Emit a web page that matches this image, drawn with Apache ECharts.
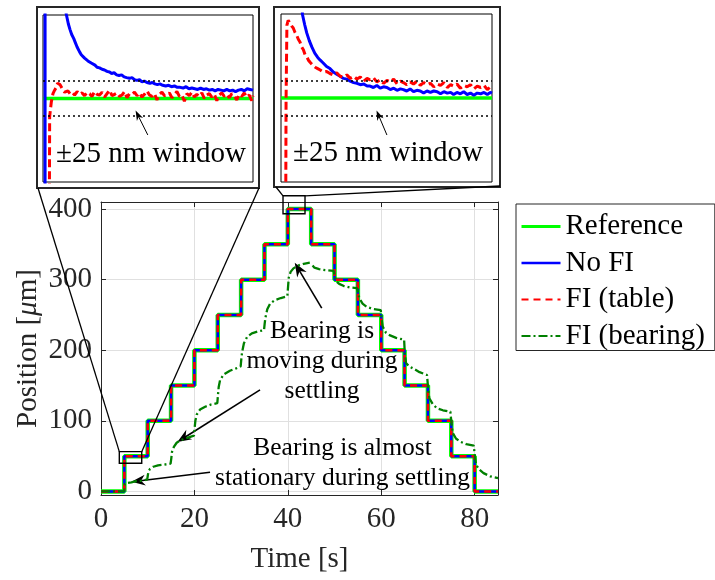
<!DOCTYPE html>
<html>
<head>
<meta charset="utf-8">
<script src="https://cdn.jsdelivr.net/npm/echarts@6/dist/echarts.min.js"></script>
<style>
  html, body { margin: 0; padding: 0; background: #fff; }
  #chart { width: 715px; height: 580px; }
</style>
</head>
<body>
<div id="chart"></div>
<script>
const FONT = '"Liberation Serif", "Times New Roman", serif';

// ---- Stair-step position command (held from each time to the next) ----
const stepTimesS = [0, 5, 10, 15, 20, 25, 30, 35, 40, 45, 50, 55, 60, 65, 70, 75, 80, 85];
const referenceUm = [0, 50, 100, 150, 200, 250, 300, 350, 400, 350, 300, 250, 200, 150, 100, 50, 0, 0];
const noFiUm      = [0, 50, 100, 150, 200, 250, 300, 350, 400, 350, 300, 250, 200, 150, 100, 50, 0, 0];
const fiTableUm   = [0, 50, 100, 150, 200, 250, 300, 350, 400, 350, 300, 250, 200, 150, 100, 50, 0, 0];

// ---- Bearing-based FI response [time s, position um] ----
const fiBearingUm = [
  [0, 0], [4.9, 0], [5.0, 4], [5.1, 11], [5.6, 12], [6.5, 13], [7.5, 14.5], [8.5, 15], [9.9, 17],
  [10.05, 24], [10.2, 29], [10.5, 32], [11.2, 35], [12.2, 37], [13.5, 38], [14.9, 39.5],
  [15.05, 47], [15.2, 56], [15.6, 63], [16.2, 69], [17.0, 72.5], [18.3, 75.5], [19.9, 79],
  [20.05, 90], [20.2, 100], [20.5, 109], [21.2, 116], [22.3, 120], [23.5, 123], [24.9, 125],
  [25.05, 137], [25.2, 148], [25.5, 158], [26.3, 166], [27.6, 171], [28.8, 174], [29.9, 177],
  [30.05, 188], [30.2, 197], [30.6, 210], [31.3, 219], [32.3, 224], [33.5, 226.5], [34.9, 228.5],
  [35.05, 238], [35.2, 246], [35.6, 258], [36.2, 266], [37.2, 271], [38.5, 274], [39.9, 276.5],
  [40.05, 290], [40.2, 303], [40.6, 311], [41.2, 316], [42.2, 320], [43.4, 322.5], [44.7, 324],
  [45.0, null],
  [45.3, 320], [45.7, 317], [46.7, 315], [48.0, 313.5], [49.8, 312.5],
  [50.05, 305], [50.3, 298], [51.0, 294], [52.0, 291], [53.3, 289], [54.8, 288],
  [55.05, 281], [55.3, 274], [56.0, 266], [56.9, 261.5], [58.2, 258.5], [59.9, 257],
  [60.05, 246], [60.3, 234], [61.0, 225], [61.9, 221], [63.2, 217.5], [64.9, 215],
  [65.05, 195], [65.3, 182], [66.0, 177], [66.9, 174], [68.2, 169], [69.8, 165],
  [70.05, 145], [70.3, 132], [71.0, 124], [71.9, 118], [73.2, 115], [74.8, 113],
  [75.05, 96], [75.3, 83], [76.0, 75], [76.9, 70.5], [78.2, 67], [79.8, 65],
  [80.05, 50], [80.3, 38], [81.0, 31], [81.9, 26], [83.3, 21.5], [85, 19]
];

// ---- Close-up 1: settling after the 0 -> 50 um step (error in nm) ----
const zoom1ReferenceNm = [[4.95, 0], [10.0, 0]];
const zoom1NoFiNm = [
  [4.95, -50000], [5.0, -50000], [5.0, 500], [5.4, 170], [5.51, 121], [5.56, 107], [5.6, 99], [5.64, 92],
  [5.69, 86], [5.73, 80], [5.77, 74], [5.83, 67], [5.87, 63], [5.91, 61], [5.95, 58], [5.99, 58],
  [6.03, 54], [6.07, 53], [6.11, 51], [6.15, 49], [6.2, 48], [6.25, 45], [6.31, 44], [6.37, 42],
  [6.43, 41], [6.49, 39], [6.55, 38], [6.6, 36], [6.66, 37], [6.72, 34], [6.78, 33], [6.84, 34],
  [6.9, 31], [6.96, 30], [7.03, 29], [7.09, 30], [7.15, 27], [7.21, 26], [7.27, 27], [7.33, 24],
  [7.39, 25], [7.45, 23], [7.52, 22], [7.58, 23], [7.64, 21], [7.7, 20], [7.76, 21], [7.83, 19],
  [7.9, 18], [7.97, 19], [8.04, 17], [8.11, 18], [8.18, 16], [8.25, 16], [8.32, 15], [8.39, 17],
  [8.46, 14], [8.53, 15], [8.6, 14], [8.67, 13], [8.74, 15], [8.81, 13], [8.88, 14], [8.95, 12],
  [9.02, 13], [9.09, 11], [9.16, 13], [9.23, 12], [9.3, 11], [9.37, 13], [9.44, 11], [9.51, 12],
  [9.58, 10], [9.65, 12], [9.72, 13], [9.79, 11], [9.86, 14], [9.93, 13], [10.0, 12]
];
const zoom1FiTableNm = [
  [4.95, -50000], [5.07, -50000], [5.09, -400], [5.11, -26], [5.15, -5], [5.19, 7], [5.23, 12], [5.27, 16],
  [5.3, 22], [5.33, 23], [5.36, 20], [5.39, 18], [5.43, 12], [5.47, 9], [5.51, 8], [5.55, 11], [5.6, 7],
  [5.65, 9], [5.71, 5], [5.77, 10], [5.83, 6], [5.89, 8], [5.95, 4], [6.01, 9], [6.07, 7], [6.13, 3],
  [6.19, 10], [6.25, 6], [6.31, 5], [6.37, 9], [6.43, 2], [6.49, 7], [6.55, 12], [6.61, 4], [6.67, 6],
  [6.73, 8], [6.79, 3], [6.85, 5], [6.91, 10], [6.97, 1], [7.03, 7], [7.09, 6], [7.15, 9], [7.21, 4],
  [7.27, 8], [7.33, 2], [7.39, 6], [7.45, 11], [7.51, 5], [7.57, 3], [7.63, 7], [7.69, -2], [7.75, 6],
  [7.81, 9], [7.87, 4], [7.93, 5], [7.99, 8], [8.05, 1], [8.11, 6], [8.17, 10], [8.23, 3], [8.29, 5],
  [8.35, -4], [8.41, 7], [8.47, 4], [8.53, 9], [8.59, 2], [8.65, 6], [8.71, 3], [8.77, 8], [8.83, 0],
  [8.89, 5], [8.95, 7], [9.01, 2], [9.07, 6], [9.13, -3], [9.19, 5], [9.25, 8], [9.31, 3], [9.37, 6],
  [9.43, 1], [9.49, 7], [9.55, 4], [9.61, -2], [9.67, 6], [9.73, 3], [9.79, 8], [9.85, 2], [9.91, 5],
  [9.97, -3], [10.0, 4]
];

// ---- Close-up 2: settling after the 350 -> 400 um step (error in nm) ----
const zoom2ReferenceNm = [[40.0, 0], [45.0, 0]];
const zoom2NoFiNm = [
  [40.3, 400], [40.45, 160], [40.51, 119], [40.56, 105], [40.61, 93], [40.67, 82], [40.73, 73], [40.8, 64],
  [40.87, 58], [40.93, 54], [41.0, 50], [41.08, 45], [41.16, 42], [41.24, 37], [41.32, 34], [41.4, 31],
  [41.48, 28], [41.56, 27], [41.64, 24], [41.72, 22], [41.8, 21], [41.88, 19], [41.96, 20], [42.04, 17],
  [42.11, 17], [42.19, 15], [42.27, 18], [42.35, 14], [42.43, 16], [42.51, 15], [42.59, 12], [42.67, 14],
  [42.75, 11], [42.83, 13], [42.9, 12], [42.98, 10], [43.06, 13], [43.14, 9], [43.22, 11], [43.3, 10],
  [43.38, 7], [43.46, 10], [43.54, 8], [43.62, 10], [43.7, 9], [43.78, 6], [43.86, 9], [43.94, 7],
  [44.02, 8], [44.09, 5], [44.17, 8], [44.25, 6], [44.33, 9], [44.41, 5], [44.49, 7], [44.57, 4],
  [44.65, 7], [44.73, 6], [44.81, 8], [44.89, 5], [44.96, 8], [45.0, 7]
];
const zoom2FiTableNm = [
  [40.0, -50000], [40.09, -50000], [40.11, -200], [40.12, -3], [40.14, 104], [40.17, 111], [40.21, 107],
  [40.25, 103], [40.29, 100], [40.33, 94], [40.37, 90], [40.41, 84], [40.45, 80], [40.49, 73], [40.53, 69],
  [40.57, 62], [40.61, 59], [40.65, 54], [40.69, 51], [40.75, 47], [40.81, 44], [40.87, 42], [40.93, 40],
  [41.0, 37], [41.08, 38], [41.16, 35], [41.24, 33], [41.32, 36], [41.4, 31], [41.48, 30], [41.56, 33],
  [41.64, 28], [41.72, 31], [41.8, 27], [41.88, 30], [41.96, 24], [42.04, 28], [42.11, 26], [42.19, 29],
  [42.27, 23], [42.35, 26], [42.43, 21], [42.51, 25], [42.59, 23], [42.67, 27], [42.75, 20], [42.83, 24],
  [42.9, 22], [42.98, 19], [43.06, 23], [43.14, 20], [43.22, 24], [43.3, 18], [43.38, 22], [43.46, 19],
  [43.54, 21], [43.62, 16], [43.7, 20], [43.78, 18], [43.86, 22], [43.94, 15], [44.02, 19], [44.09, 17],
  [44.17, 20], [44.25, 14], [44.33, 18], [44.41, 16], [44.49, 19], [44.57, 13], [44.65, 17], [44.73, 15],
  [44.81, 18], [44.89, 12], [44.96, 16], [45.0, 14]
];

// tolerance band shown in both close-ups (nm)
const windowNm = 25;

// regions of the main axes shown in the close-ups [t0, t1, y0, y1]
const zoomBox1 = [3.92, 8.72, 40, 56.4];
const zoomBox2 = [38.97, 43.68, 393.3, 418.8];

const C_REF = '#00ff00', C_NOFI = '#0000ff', C_TABLE = '#ff0000', C_BEAR = '#008000';
const AXIS_C = '#262626';
const ARROW = 'path://M5,0 L10,13 L5,9 L0,13 Z';

const zip = (xs, ys) => xs.map((x, i) => [x, ys[i]]);

const chart = echarts.init(document.getElementById('chart'), null, { renderer: 'canvas' });

const mainAxisBase = {
  gridIndex: 0,
  axisLine: { show: true, onZero: false, lineStyle: { color: AXIS_C, width: 1 } },
  axisTick: { show: true, inside: true, length: 5, lineStyle: { color: AXIS_C } }
};
const tickFont = { fontFamily: FONT, fontSize: 29, color: AXIS_C };

const option = {
  animation: false,
  backgroundColor: '#fff',
  grid: [
    { left: 101, top: 202, width: 397, height: 293, containLabel: false },
    { left: 43, top: 15, width: 210, height: 167, show: true, borderColor: '#000', borderWidth: 1, backgroundColor: '#fff' },
    { left: 281, top: 14, width: 211, height: 168, show: true, borderColor: '#000', borderWidth: 1, backgroundColor: '#fff' }
  ],
  xAxis: [
    Object.assign({}, mainAxisBase, {
      type: 'value', position: 'bottom', min: 0, max: 85, interval: 20,
      axisLabel: Object.assign({ margin: 10, showMaxLabel: false }, tickFont),
      splitLine: { show: true, lineStyle: { color: '#e0e0e0', width: 1 } },
      name: 'Time [s]', nameLocation: 'middle', nameGap: 50,
      nameTextStyle: { fontFamily: FONT, fontSize: 29, color: AXIS_C }
    }),
    Object.assign({}, mainAxisBase, {
      type: 'value', position: 'top', min: 0, max: 85, interval: 20,
      axisLabel: { show: false }, splitLine: { show: false }
    }),
    { type: 'value', gridIndex: 1, min: 4.95, max: 10.0, show: false },
    { type: 'value', gridIndex: 2, min: 40.0, max: 45.0, show: false }
  ],
  yAxis: [
    Object.assign({}, mainAxisBase, {
      type: 'value', position: 'left', min: -5, max: 410,
      axisLabel: Object.assign({ margin: 9, showMinLabel: false, showMaxLabel: false }, tickFont),
      splitLine: { show: true, lineStyle: { color: '#e0e0e0', width: 1 } },
      name: 'Position [{it|\u03bc}m]', nameLocation: 'middle', nameGap: 58, nameMoveOverlap: false,
      nameTextStyle: {
        fontFamily: FONT, fontSize: 29, color: AXIS_C,
        rich: { it: { fontFamily: FONT, fontSize: 29, fontStyle: 'italic', color: AXIS_C } }
      }
    }),
    Object.assign({}, mainAxisBase, {
      type: 'value', position: 'right', min: -5, max: 410,
      axisLabel: { show: false }, splitLine: { show: false }
    }),
    { type: 'value', gridIndex: 1, min: -120, max: 120, show: false },
    { type: 'value', gridIndex: 2, min: -120, max: 120, show: false }
  ],
  legend: {
    data: [
      { name: 'Reference', lineStyle: { width: 3 } },
      { name: 'No FI', lineStyle: { width: 2.5 } },
      { name: 'FI (table)', lineStyle: { width: 2.2 } },
      { name: 'FI (bearing)', lineStyle: { width: 2.2 } }
    ],
    orient: 'vertical', left: 516, top: 204,
    padding: [8, 10, 0, 4],
    itemWidth: 39, itemHeight: 14, itemGap: 7.5,
    itemStyle: { opacity: 0 },
    borderColor: AXIS_C, borderWidth: 1, backgroundColor: '#fff', borderRadius: 0,
    textStyle: { fontFamily: FONT, fontSize: 29, color: '#000' },
    selectedMode: false
  },
  series: [
    {
      name: 'Reference', type: 'line', xAxisIndex: 0, yAxisIndex: 0, step: 'end',
      data: zip(stepTimesS, referenceUm), symbol: 'none',
      lineStyle: { color: C_REF, width: 4.5 }, itemStyle: { color: C_REF }, z: 2
    },
    {
      name: 'No FI', type: 'line', xAxisIndex: 0, yAxisIndex: 0, step: 'end',
      data: zip(stepTimesS, noFiUm), symbol: 'none',
      lineStyle: { color: C_NOFI, width: 2.5 }, itemStyle: { color: C_NOFI }, z: 3
    },
    {
      name: 'FI (table)', type: 'line', xAxisIndex: 0, yAxisIndex: 0, step: 'end',
      data: zip(stepTimesS, fiTableUm), symbol: 'none',
      lineStyle: { color: C_TABLE, width: 2.5, type: [7, 5] }, itemStyle: { color: C_TABLE }, z: 4
    },
    {
      name: 'FI (bearing)', type: 'line', xAxisIndex: 0, yAxisIndex: 0,
      data: fiBearingUm, symbol: 'none', connectNulls: false,
      lineStyle: { color: C_BEAR, width: 2.3, type: [9, 3, 2, 3] }, itemStyle: { color: C_BEAR }, z: 5,
      markLine: {
        silent: true, animation: false,
        symbol: ['none', ARROW], symbolSize: [11, 14],
        label: { show: false },
        lineStyle: { color: '#000', width: 1.6, type: 'solid' },
        data: [
          [{ coord: [47.26, 259.7] }, { coord: [42.25, 315.4] }],
          [{ coord: [34.05, 143.9] }, { coord: [17.62, 75.4] }],
          [{ coord: [23.34, 27.2] }, { coord: [7.99, 14.9] }]
        ]
      }
    },

    // close-up 1
    {
      name: 'Reference z1', type: 'line', xAxisIndex: 2, yAxisIndex: 2, data: zoom1ReferenceNm, symbol: 'none',
      lineStyle: { color: C_REF, width: 3.5 }, z: 2,
      markLine: {
        silent: true, animation: false, symbol: 'none', label: { show: false },
        lineStyle: { color: '#000', width: 1.5, type: [2, 3] },
        data: [{ yAxis: windowNm }, { yAxis: -windowNm }]
      }
    },
    {
      name: 'No FI z1', type: 'line', xAxisIndex: 2, yAxisIndex: 2, data: zoom1NoFiNm, symbol: 'none',
      lineStyle: { color: C_NOFI, width: 3 }, z: 3,
      markLine: {
        silent: true, animation: false, symbol: ['none', ARROW], symbolSize: [7, 10], label: { show: false },
        lineStyle: { color: '#000', width: 1, type: 'solid' },
        data: [[{ coord: [7.47, -52.4] }, { coord: [7.23, -23.7] }]]
      }
    },
    {
      name: 'FI (table) z1', type: 'line', xAxisIndex: 2, yAxisIndex: 2, data: zoom1FiTableNm, symbol: 'none',
      lineStyle: { color: C_TABLE, width: 3, type: [8, 4] }, z: 4
    },

    // close-up 2
    {
      name: 'Reference z2', type: 'line', xAxisIndex: 3, yAxisIndex: 3, data: zoom2ReferenceNm, symbol: 'none',
      lineStyle: { color: C_REF, width: 3.5 }, z: 2,
      markLine: {
        silent: true, animation: false, symbol: 'none', label: { show: false },
        lineStyle: { color: '#000', width: 1.5, type: [2, 3] },
        data: [{ yAxis: windowNm }, { yAxis: -windowNm }]
      }
    },
    {
      name: 'No FI z2', type: 'line', xAxisIndex: 3, yAxisIndex: 3, data: zoom2NoFiNm, symbol: 'none',
      lineStyle: { color: C_NOFI, width: 3 }, z: 3,
      markLine: {
        silent: true, animation: false, symbol: ['none', ARROW], symbolSize: [7, 10], label: { show: false },
        lineStyle: { color: '#000', width: 1, type: 'solid' },
        data: [[{ coord: [42.51, -52.9] }, { coord: [42.31, -24.3] }]]
      }
    },
    {
      name: 'FI (table) z2', type: 'line', xAxisIndex: 3, yAxisIndex: 3, data: zoom2FiTableNm, symbol: 'none',
      lineStyle: { color: C_TABLE, width: 3, type: [8, 4] }, z: 4
    }
  ]
};

chart.setOption(option);

// frames, zoom boxes, connector lines and notes
const toPx = (t, v) => chart.convertToPixel({ gridIndex: 0 }, [t, v]);
function boxCorners(b) {
  const tl = toPx(b[0], b[3]);
  const br = toPx(b[1], b[2]);
  return { x: tl[0], y: tl[1], w: br[0] - tl[0], h: br[1] - tl[1] };
}
const b1 = boxCorners(zoomBox1);
const b2 = boxCorners(zoomBox2);
const frame1 = { x: 37, y: 7, w: 222, h: 181 };
const frame2 = { x: 274, y: 7, w: 226, h: 180 };

const thin = { stroke: '#000', lineWidth: 1.3, fill: null };
const noteFont = '25.5px ' + FONT;
const windowFont = '29px ' + FONT;

function line(x1, y1, x2, y2) {
  return { type: 'line', z: 50, shape: { x1, y1, x2, y2 }, style: thin, silent: true };
}
function rect(r, w, c) {
  return { type: 'rect', z: 50, shape: { x: r.x, y: r.y, width: r.w, height: r.h },
           style: { stroke: c, lineWidth: w, fill: null }, silent: true };
}
function note(x, y, text, font) {
  return { type: 'text', z: 60, x, y, silent: true,
           style: { text, font, fill: '#000', align: 'center', verticalAlign: 'middle',
                    textAlign: 'center', textVerticalAlign: 'middle', lineHeight: 30 } };
}

chart.setOption({
  graphic: [
    rect(frame1, 2, '#262626'),
    rect(frame2, 2, '#262626'),
    rect(b1, 1.4, '#000'),
    rect(b2, 1.4, '#000'),
    line(frame1.x + 1, frame1.y + frame1.h, b1.x, b1.y),
    line(frame1.x + frame1.w, frame1.y + frame1.h, b1.x + b1.w, b1.y),
    line(frame2.x + 2, frame2.y + frame2.h, b2.x, b2.y),
    line(frame2.x + frame2.w, frame2.y + frame2.h - 1, b2.x + b2.w, b2.y),
    note(151, 154, '\u00b125 nm window', windowFont),
    note(388, 153, '\u00b125 nm window', windowFont),
    note(322, 361, 'Bearing is\nmoving during\nsettling', noteFont),
    note(342.5, 463, 'Bearing is almost\nstationary during settling', noteFont)
  ]
});
</script>
</body>
</html>
